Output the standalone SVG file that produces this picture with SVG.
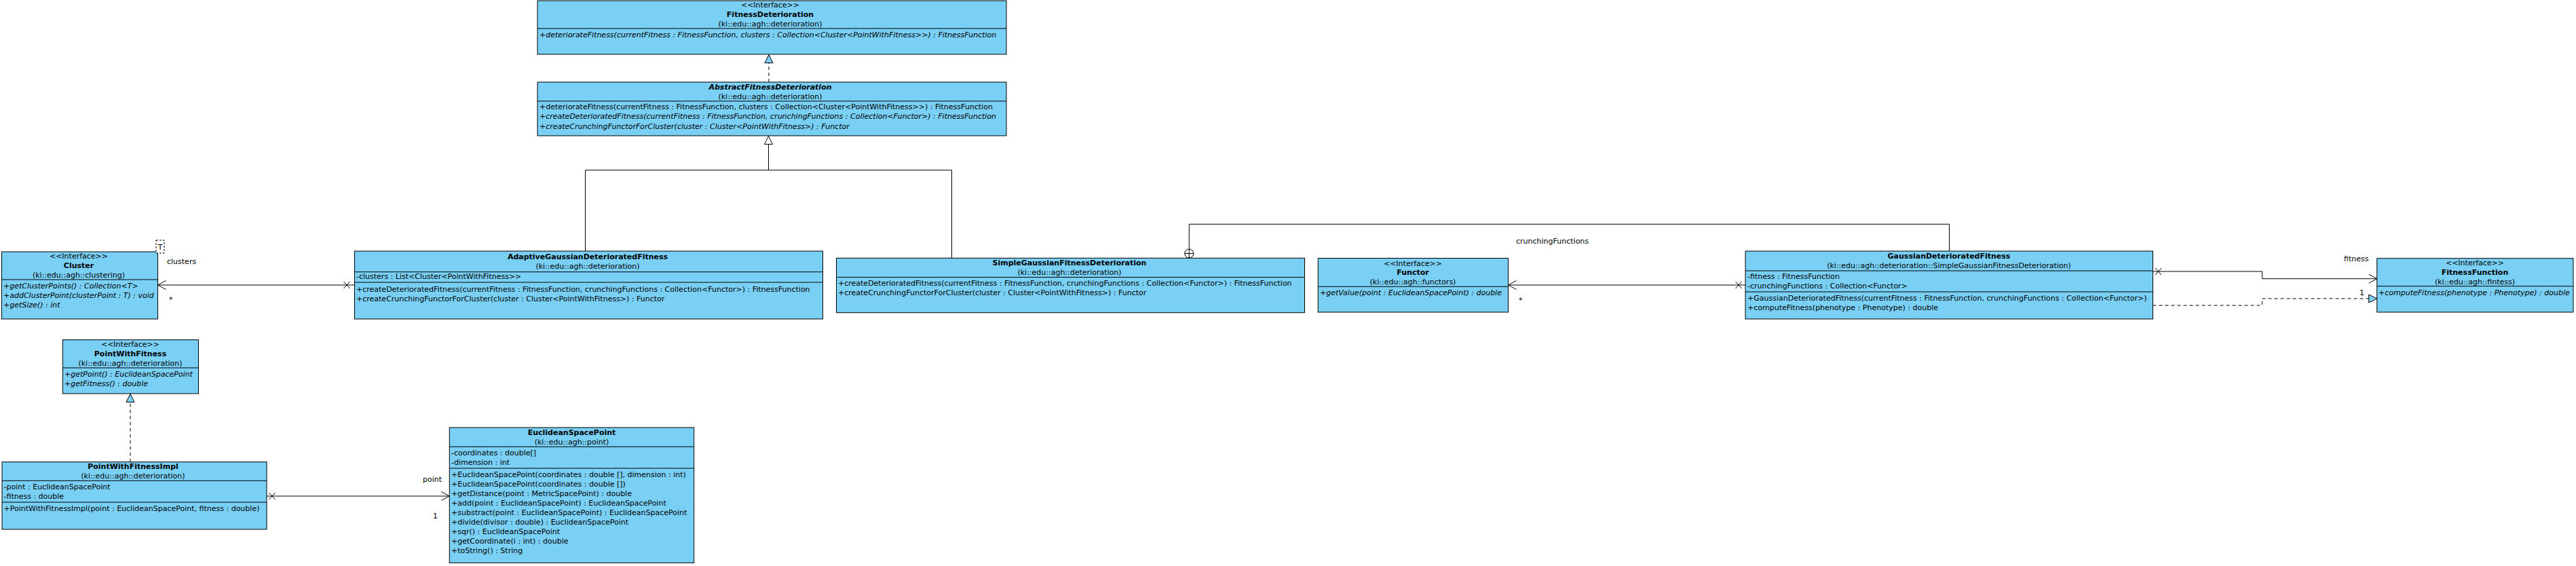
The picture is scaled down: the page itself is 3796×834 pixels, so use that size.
<svg xmlns="http://www.w3.org/2000/svg" width="3796" height="834" viewBox="0 0 3796 834">
<style>
.box{fill:#7ACFF5;stroke:#000;stroke-width:1}
.dv{stroke:#000;stroke-width:1}
.t{font-family:'DejaVu Sans','Liberation Sans',sans-serif;font-size:11px;fill:#000}
.c{text-anchor:middle}
.e{text-anchor:end}
.b{font-weight:bold}
.i{font-style:italic}
.ln{stroke:#000;stroke-width:1;fill:none}
.dash{stroke-dasharray:5,4}
</style>
<defs>
<marker id="realize" viewBox="0 0 14 14" refX="13" refY="7" markerWidth="14" markerHeight="14" orient="auto" markerUnits="userSpaceOnUse"><path d="M1,1 L13,7 L1,13 Z" fill="#7ACFF5" stroke="#000"/></marker>
<marker id="gen" viewBox="0 0 14 14" refX="13" refY="7" markerWidth="14" markerHeight="14" orient="auto" markerUnits="userSpaceOnUse"><path d="M1,1 L13,7 L1,13 Z" fill="#fff" stroke="#000"/></marker>
<marker id="open" viewBox="0 0 14 14" refX="13" refY="7" markerWidth="14" markerHeight="14" orient="auto" markerUnits="userSpaceOnUse"><path d="M1,0.5 L13,7 L1,13.5" fill="none" stroke="#000"/></marker>
</defs>
<rect x="0" y="0" width="3796" height="834" fill="#fff"/>

<g id="connectors">
<path class="ln dash" d="M1133,121 V80.7" marker-end="url(#realize)"/>
<path class="ln" d="M862.5,370 V250.7 H1132.5 V200.5" marker-end="url(#gen)"/>
<path class="ln" d="M1402.5,380 V250.7 H1132.5"/>
<path class="ln" d="M522.5,420 H232.5" marker-end="url(#open)"/>
<path class="ln" d="M506.5,415 L515.5,425 M506.5,425 L515.5,415"/>
<text class="t" x="246" y="389">clusters</text>
<text class="t" x="249" y="445">*</text>
<path class="ln" d="M2572,420 H2222.5" marker-end="url(#open)"/>
<path class="ln" d="M2557.5,415 L2566.5,425 M2557.5,425 L2566.5,415"/>
<text class="t" x="2234" y="359">crunchingFunctions</text>
<text class="t" x="2238" y="446">*</text>
<path class="ln" d="M1752.3,367 V330.3 H2872.5 V370"/>
<circle cx="1752.3" cy="373.5" r="6.5" fill="#fff" stroke="#000"/>
<path class="ln" d="M1745.8,373.5 H1758.8 M1752.3,367 V380"/>
<path class="ln" d="M3172.5,400 H3333.6 V410.7 H3502.7" marker-end="url(#open)"/>
<path class="ln" d="M3176,395 L3185,405 M3176,405 L3185,395"/>
<text class="t e" x="3490.5" y="384.5">fitness</text>
<text class="t" x="3477" y="435">1</text>
<path class="ln dash" d="M3172.5,450 H3333.6 V440 H3502.7" marker-end="url(#realize)"/>
<path class="ln dash" d="M192,680.7 V580.5" marker-end="url(#realize)"/>
<path class="ln" d="M393,731 H662.3" marker-end="url(#open)"/>
<path class="ln" d="M396.5,726 L405.5,736 M396.5,736 L405.5,726"/>
<text class="t e" x="651" y="710">point</text>
<text class="t" x="638" y="763.5">1</text>
</g>

<g id="FitnessDeterioration">
<rect class="box" x="792" y="1" width="691" height="79"/>
<line class="dv" x1="792" y1="42" x2="1483" y2="42"/>
<text class="t c" x="1135" y="11">&lt;&lt;Interface&gt;&gt;</text>
<text class="t c b" x="1135" y="25">FitnessDeterioration</text>
<text class="t c" x="1135" y="39">(ki::edu::agh::deterioration)</text>
<text class="t i" x="795" y="55">+deteriorateFitness(currentFitness : FitnessFunction, clusters : Collection&lt;Cluster&lt;PointWithFitness&gt;&gt;) : FitnessFunction</text>
</g>

<g id="AbstractFitnessDeterioration">
<rect class="box" x="792" y="121" width="691" height="79"/>
<line class="dv" x1="792" y1="149" x2="1483" y2="149"/>
<text class="t c b i" x="1135" y="131.5">AbstractFitnessDeterioration</text>
<text class="t c" x="1135" y="145.5">(ki::edu::agh::deterioration)</text>
<text class="t" x="795" y="160.5">+deteriorateFitness(currentFitness : FitnessFunction, clusters : Collection&lt;Cluster&lt;PointWithFitness&gt;&gt;) : FitnessFunction</text>
<text class="t i" x="795" y="175">+createDeterioratedFitness(currentFitness : FitnessFunction, crunchingFunctions : Collection&lt;Functor&gt;) : FitnessFunction</text>
<text class="t i" x="795" y="189.5">+createCrunchingFunctorForCluster(cluster : Cluster&lt;PointWithFitness&gt;) : Functor</text>
</g>

<g id="Cluster">
<rect class="box" x="2.5" y="371" width="230" height="99"/>
<line class="dv" x1="2.5" y1="412" x2="232.5" y2="412"/>
<text class="t c" x="116" y="380.5">&lt;&lt;Interface&gt;&gt;</text>
<text class="t c b" x="116" y="395">Cluster</text>
<text class="t c" x="116" y="409">(ki::edu::agh::clustering)</text>
<text class="t i" x="5" y="425">+getClusterPoints() : Collection&lt;T&gt;</text>
<text class="t i" x="5" y="439">+addClusterPoint(clusterPoint : T) : void</text>
<text class="t i" x="5" y="453">+getSize() : int</text>
<rect x="230" y="354" width="12" height="19" fill="#fff" stroke="#000" stroke-dasharray="3,2"/>
<text class="t c" x="236" y="368">T</text>
</g>

<g id="AdaptiveGaussianDeterioratedFitness">
<rect class="box" x="522.5" y="370" width="690" height="100"/>
<line class="dv" x1="522.5" y1="400.7" x2="1212.5" y2="400.7"/>
<line class="dv" x1="522.5" y1="416" x2="1212.5" y2="416"/>
<text class="t c b" x="866" y="381.5">AdaptiveGaussianDeterioratedFitness</text>
<text class="t c" x="866" y="395.5">(ki::edu::agh::deterioration)</text>
<text class="t" x="525" y="411">-clusters : List&lt;Cluster&lt;PointWithFitness&gt;&gt;</text>
<text class="t" x="525" y="430">+createDeterioratedFitness(currentFitness : FitnessFunction, crunchingFunctions : Collection&lt;Functor&gt;) : FitnessFunction</text>
<text class="t" x="525" y="443.5">+createCrunchingFunctorForCluster(cluster : Cluster&lt;PointWithFitness&gt;) : Functor</text>
</g>

<g id="SimpleGaussianFitnessDeterioration">
<rect class="box" x="1232.5" y="380.3" width="690" height="80.4"/>
<line class="dv" x1="1232.5" y1="408.5" x2="1922.5" y2="408.5"/>
<text class="t c b" x="1576" y="391.3">SimpleGaussianFitnessDeterioration</text>
<text class="t c" x="1576" y="405">(ki::edu::agh::deterioration)</text>
<text class="t" x="1235" y="421.3">+createDeterioratedFitness(currentFitness : FitnessFunction, crunchingFunctions : Collection&lt;Functor&gt;) : FitnessFunction</text>
<text class="t" x="1235" y="435">+createCrunchingFunctorForCluster(cluster : Cluster&lt;PointWithFitness&gt;) : Functor</text>
</g>

<g id="Functor">
<rect class="box" x="1942.3" y="380.5" width="280.2" height="79.5"/>
<line class="dv" x1="1942.3" y1="422.3" x2="2222.5" y2="422.3"/>
<text class="t c" x="2082" y="391.7">&lt;&lt;Interface&gt;&gt;</text>
<text class="t c b" x="2082" y="405">Functor</text>
<text class="t c" x="2082" y="419">(ki::edu::agh::functors)</text>
<text class="t i" x="1945" y="435">+getValue(point : EuclideanSpacePoint) : double</text>
</g>

<g id="GaussianDeterioratedFitness">
<rect class="box" x="2572" y="370" width="600.5" height="100"/>
<line class="dv" x1="2572" y1="399" x2="3172.5" y2="399"/>
<line class="dv" x1="2572" y1="430" x2="3172.5" y2="430"/>
<text class="t c b" x="2872" y="381.3">GaussianDeterioratedFitness</text>
<text class="t c" x="2872" y="395">(ki::edu::agh::deterioration::SimpleGaussianFitnessDeterioration)</text>
<text class="t" x="2575" y="411.3">-fitness : FitnessFunction</text>
<text class="t" x="2575" y="425">-crunchingFunctions : Collection&lt;Functor&gt;</text>
<text class="t" x="2575" y="443">+GaussianDeterioratedFitness(currentFitness : FitnessFunction, crunchingFunctions : Collection&lt;Functor&gt;)</text>
<text class="t" x="2575" y="457.3">+computeFitness(phenotype : Phenotype) : double</text>
</g>

<g id="FitnessFunction">
<rect class="box" x="3502.7" y="380.7" width="289.3" height="79.3"/>
<line class="dv" x1="3502.7" y1="421.7" x2="3792" y2="421.7"/>
<text class="t c" x="3647" y="390.7">&lt;&lt;Interface&gt;&gt;</text>
<text class="t c b" x="3647" y="405">FitnessFunction</text>
<text class="t c" x="3647" y="419">(ki::edu::agh::fintess)</text>
<text class="t i" x="3505" y="435">+computeFitness(phenotype : Phenotype) : double</text>
</g>

<g id="PointWithFitness">
<rect class="box" x="92.5" y="500.7" width="200" height="79.3"/>
<line class="dv" x1="92.5" y1="542" x2="292.5" y2="542"/>
<text class="t c" x="192" y="510.7">&lt;&lt;Interface&gt;&gt;</text>
<text class="t c b" x="192" y="525">PointWithFitness</text>
<text class="t c" x="192" y="539">(ki::edu::agh::deterioration)</text>
<text class="t i" x="95" y="555">+getPoint() : EuclideanSpacePoint</text>
<text class="t i" x="95" y="569">+getFitness() : double</text>
</g>

<g id="PointWithFitnessImpl">
<rect class="box" x="3" y="680.7" width="390" height="99.3"/>
<line class="dv" x1="3" y1="708.3" x2="393" y2="708.3"/>
<line class="dv" x1="3" y1="740" x2="393" y2="740"/>
<text class="t c b" x="196" y="691.3">PointWithFitnessImpl</text>
<text class="t c" x="196" y="705">(ki::edu::agh::deterioration)</text>
<text class="t" x="5.5" y="720.7">-point : EuclideanSpacePoint</text>
<text class="t" x="5.5" y="735">-fitness : double</text>
<text class="t" x="5.5" y="753.3">+PointWithFitnessImpl(point : EuclideanSpacePoint, fitness : double)</text>
</g>

<g id="EuclideanSpacePoint">
<rect class="box" x="662.3" y="630" width="360.4" height="199.3"/>
<line class="dv" x1="662.3" y1="658.3" x2="1022.7" y2="658.3"/>
<line class="dv" x1="662.3" y1="690" x2="1022.7" y2="690"/>
<text class="t c b" x="842.5" y="641.3">EuclideanSpacePoint</text>
<text class="t c" x="842.5" y="655">(ki::edu::agh::point)</text>
<text class="t" x="665" y="671.3">-coordinates : double[]</text>
<text class="t" x="665" y="685">-dimension : int</text>
<text class="t" x="665" y="703">+EuclideanSpacePoint(coordinates : double [], dimension : int)</text>
<text class="t" x="665" y="717.3">+EuclideanSpacePoint(coordinates : double [])</text>
<text class="t" x="665" y="731">+getDistance(point : MetricSpacePoint) : double</text>
<text class="t" x="665" y="745">+add(point : EuclideanSpacePoint) : EuclideanSpacePoint</text>
<text class="t" x="665" y="759">+substract(point : EuclideanSpacePoint) : EuclideanSpacePoint</text>
<text class="t" x="665" y="773">+divide(divisor : double) : EuclideanSpacePoint</text>
<text class="t" x="665" y="786.7">+sqr() : EuclideanSpacePoint</text>
<text class="t" x="665" y="801">+getCoordinate(i : int) : double</text>
<text class="t" x="665" y="815">+toString() : String</text>
</g>
</svg>
